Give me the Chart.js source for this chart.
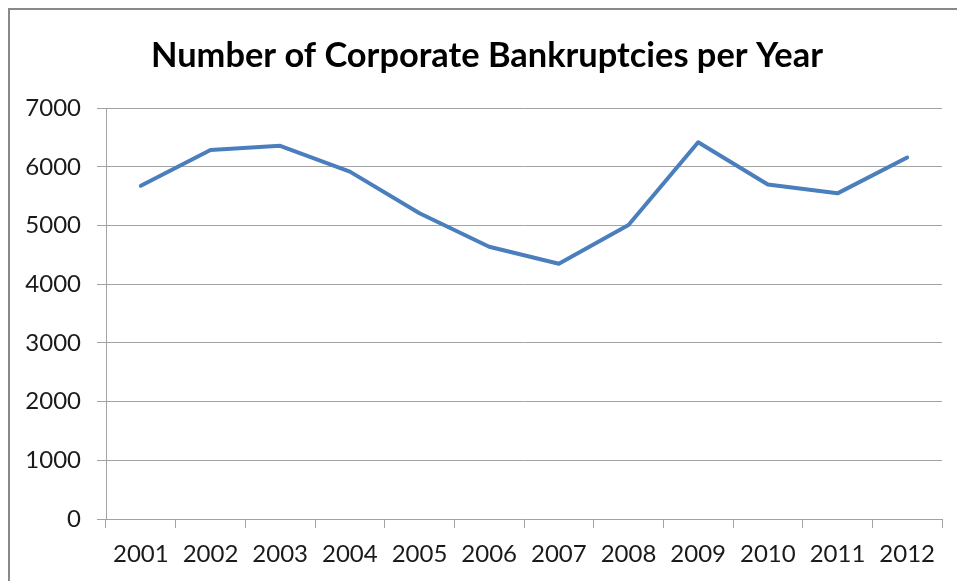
<!DOCTYPE html>
<html>
<head>
<meta charset="utf-8">
<title>Number of Corporate Bankruptcies per Year</title>
<script src="https://cdn.jsdelivr.net/npm/chart.js@4/dist/chart.umd.min.js"></script>
<style>
  html, body { margin: 0; padding: 0; background: #fff; overflow: hidden; }
  #frame {
    position: absolute; left: 8px; top: 8px;
    width: 1100px; height: 700px;
    border: 2px solid #898989;
  }
  #myChart { position: absolute; left: 0; top: 0; }
</style>
</head>
<body>
<div id="frame"></div>
<canvas id="myChart" width="957" height="581"></canvas>
<script>
// yearly counts of corporate bankruptcies
var years = ['2001', '2002', '2003', '2004', '2005', '2006', '2007', '2008', '2009', '2010', '2011', '2012'];
var bankruptcies = [5680, 6290, 6360, 5920, 5210, 4640, 4350, 5010, 6420, 5700, 5550, 6160];

// y axis runs 0..7000 in steps of 1000
var yMin = 0;
var yMax = 7000;
var yStep = 1000;

var gridGray = '#a3a3a3';
var labelFont = { family: 'Lato', size: 24 };

// nudges the title block so its centre sits over the whole frame, not just the plot
var titleShift = {
  id: 'titleShift',
  afterLayout: function(chart) {
    if (chart.titleBlock) {
      chart.titleBlock.left += 32;
    }
  }
};

var ctx = document.getElementById('myChart');

var myChart = new Chart(ctx, {
  type: 'line',
  data: {
    labels: years,
    datasets: [{
      label: 'Bankruptcies',
      data: bankruptcies,
      borderColor: '#4a7ebc',
      borderWidth: 4,
      borderCapStyle: 'round',
      borderJoinStyle: 'round',
      pointRadius: 0,
      tension: 0,
      fill: false
    }]
  },
  options: {
    responsive: false,
    animation: false,
    devicePixelRatio: 1,
    layout: { padding: { left: 0, right: 15, top: 0, bottom: 0 } },
    plugins: {
      legend: { display: false },
      tooltip: { enabled: false },
      title: {
        display: true,
        text: 'Number of Corporate Bankruptcies per Year',
        color: '#000',
        font: { family: 'Lato', size: 34.4, weight: 'bold', lineHeight: 1.2 },
        padding: { top: 35, bottom: 32 }
      }
    },
    scales: {
      x: {
        offset: true,
        grid: {
          offset: true,
          drawOnChartArea: false,
          drawTicks: true,
          tickLength: 9,
          color: gridGray
        },
        border: { display: true, color: gridGray, width: 1 },
        ticks: { color: '#1a1a1a', font: labelFont, padding: 12, maxRotation: 0, autoSkip: false },
        afterFit: function(scale) { scale.height = 62; }
      },
      y: {
        min: yMin,
        max: yMax,
        grid: { color: gridGray, tickLength: 9 },
        border: { display: true, color: gridGray, width: 1 },
        ticks: {
          stepSize: yStep,
          color: '#1a1a1a',
          font: labelFont,
          padding: 16,
          callback: function(value) { return String(value); }
        },
        afterFit: function(scale) { scale.width = 106; }
      }
    }
  },
  plugins: [titleShift]
});
</script>
</body>
</html>
